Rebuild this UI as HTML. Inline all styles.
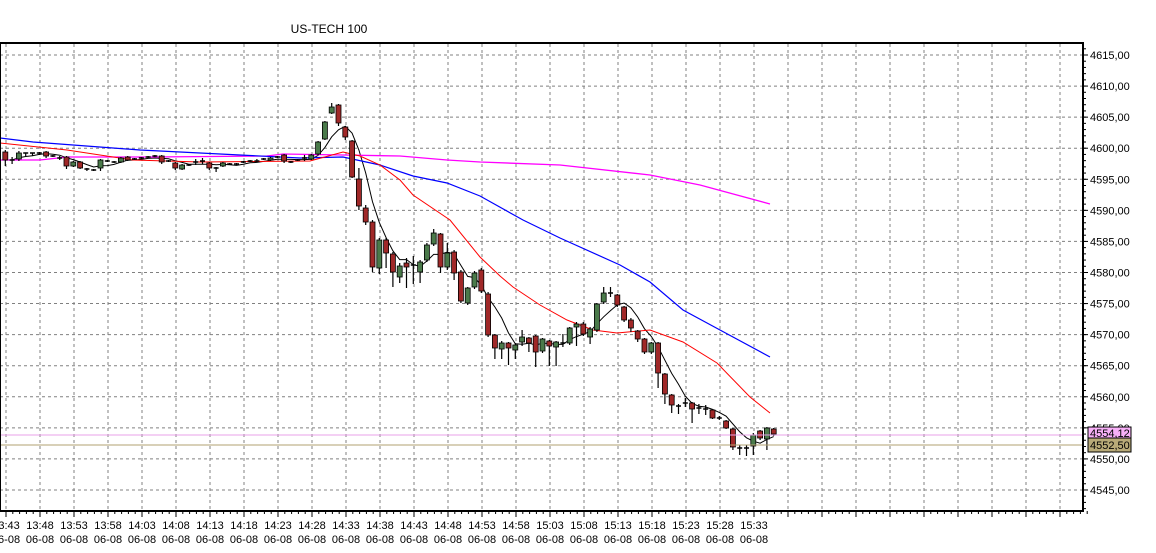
<!DOCTYPE html>
<html><head><meta charset="utf-8"><style>
html,body{margin:0;padding:0;background:#fff;}
svg{display:block;font-family:"Liberation Sans",sans-serif;}
</style></head><body>
<svg id="c" width="1156" height="553" xmlns="http://www.w3.org/2000/svg">
<rect width="1156" height="553" fill="#fff"/>
<text x="329" y="33" font-size="12" text-anchor="middle" fill="#000">US-TECH 100</text>
<g id="grid"></g>
<g id="lines"></g>
<g id="cand"></g>
<line x1="0" y1="435" x2="1083" y2="435" stroke="#e8a0e8" stroke-width="1"/>
<line x1="0" y1="445" x2="1083" y2="445" stroke="#b0a070" stroke-width="1"/>
<rect x="0" y="43" width="1083" height="468" fill="none" stroke="#000" stroke-width="2"/>
<g id="axis"></g>
<rect x="1088" y="427" width="43" height="11" fill="#f8b0f8" stroke="#000"/>
<text x="1090" y="437" font-size="11">4554,12</text>
<rect x="1088" y="438" width="43" height="14" fill="#b8aa78" stroke="#000"/>
<text x="1090" y="449" font-size="11">4552,50</text>
</svg>
<script>
const NS="http://www.w3.org/2000/svg";
function el(p,t,a,txt){const e=document.createElementNS(NS,t);for(const k in a)e.setAttribute(k,a[k]);if(txt!==undefined)e.textContent=txt;document.getElementById(p).appendChild(e);return e;}
// grid
for(let k=0;k<=14;k++){const y=55+31.07*k;el('grid','line',{x1:0,y1:y,x2:1083,y2:y,stroke:'#808080','stroke-dasharray':'3,3'});
 el('axis','line',{x1:1083,y1:y,x2:1088,y2:y,stroke:'#000'});
 el('axis','text',{x:1090,y:y+4,'font-size':11},(4615-5*k)+',00');}
for(let y=55-31.07;y<511;y+=6.214){if(y>44)el('axis','line',{x1:1083,y1:y,x2:1086,y2:y,stroke:'#000'});}
const times=["13:43","13:48","13:53","13:58","14:03","14:08","14:13","14:18","14:23","14:28","14:33","14:38","14:43","14:48","14:53","14:58","15:03","15:08","15:13","15:18","15:23","15:28","15:33"];
for(let k=0;k<32;k++){const x=6+34*k;el('grid','line',{x1:x,y1:44,x2:x,y2:510,stroke:'#808080','stroke-dasharray':'3,3'});
 el('axis','line',{x1:x,y1:511,x2:x,y2:517,stroke:'#000'});
 for(let m=1;m<5;m++)el('axis','line',{x1:x+6.8*m,y1:511,x2:x+6.8*m,y2:514,stroke:'#000'});
 if(k<times.length){el('axis','text',{x:x,y:529,'font-size':11,'text-anchor':'middle'},times[k]);el('axis','text',{x:x,y:543,'font-size':11,'text-anchor':'middle'},'06-08');}}
// candles: [type, top, bottom, wickTop, wickBot]  type g/r/d
const C=[
['r',152,160,150,166],['d',160,160,157,164],['g',153,159,151,161],['d',153,153,153,156],['d',153,153,153,156],['d',153,153,152,155],['r',152,156,151,158],['d',156,156,155,157],['d',158,158,156,160],['r',157,166,156,169],
['g',162,166,161,167],['r',162,168,161,169],['d',169,169,168,171],['d',170,170,169,171],['g',160,168,159,171],['d',161,161,160,162],['d',162,162,161,163],['g',158,162,157,163],['r',157,160,156,161],['d',159,159,158,160],
['d',158,158,157,159],['d',157,157,156,158],['d',156,156,155,157],['r',156,162,155,164],['d',161,161,160,162],['r',163,168,162,170],['g',165,169,164,170],['d',165,165,164,166],['d',162,162,159,165],['d',161,161,158,164],
['r',163,168,162,170],['d',168,168,167,172],['g',163,166,162,167],['d',164,164,163,165],['d',164,164,163,165],['d',162,162,161,163],['d',161,161,160,162],['d',161,161,159,162],['d',159,159,158,160],['g',158,160,157,161],
['d',157,157,156,158],['r',155,161,154,163],['d',162,162,161,163],['d',160,160,159,161],['d',158,158,155,161],['g',155,159,154,160],['g',142,154,141,155],['g',122,139,121,140],['g',107,113,103,114],['r',105,123,104,126],
['r',127,137,126,140],['r',141,177,140,178],['r',179,206,168,210],['r',208,222,205,225],['r',222,267,220,272],['g',240,268,238,274],['r',240,253,238,268],['r',254,272,252,287],['g',266,277,263,283],['r',263,267,258,288],
['d',265,265,256,284],['g',262,272,260,283],['g',245,260,243,262],['g',233,244,229,246],['r',234,267,233,273],['g',253,267,243,270],['r',252,273,250,280],['r',272,301,270,303],['g',288,303,287,305],['g',273,287,271,289],
['r',270,291,268,293],['r',294,335,292,337],['r',335,348,334,359],['g',343,349,341,359],['r',343,348,342,365],['g',345,350,343,359],['g',337,342,330,346],['r',338,343,337,352],['r',336,352,335,367],['g',339,351,338,353],
['r',341,346,340,366],['g',342,347,341,366],['d',343,343,334,347],['g',328,343,327,345],['g',324,327,322,346],['r',324,334,322,336],['g',329,337,327,344],['g',304,330,303,332],['g',293,302,287,304],['d',293,293,287,297],
['r',295,305,294,307],['r',307,320,306,322],['r',320,328,318,332],['r',331,339,330,342],['r',339,352,338,354],['g',343,352,342,354],['r',343,373,342,388],['r',374,394,373,404],['r',395,405,394,413],['d',406,406,404,414],
['d',403,403,398,407],['r',403,409,402,423],['d',408,408,404,414],['d',409,409,405,415],['r',410,418,409,419],['d',418,418,416,420],['r',421,428,420,429],['r',429,447,428,450],['d',448,448,445,455],['d',448,448,445,456],
['g',435,446,433,455],['r',431,438,430,440],['g',428,439,427,450],['r',429,434,428,436]];
const closes=[];
C.forEach((c,i)=>{const x=5.3+6.8*i;
 el('cand','line',{x1:x,y1:c[3],x2:x,y2:c[4],stroke:'#000','stroke-width':1.2});
 if(c[0]==='d'){el('cand','line',{x1:x-2.5,y1:c[1],x2:x+2.5,y2:c[1],stroke:'#000','stroke-width':1.5});closes.push(c[1]);}
 else{el('cand','rect',{x:x-2.5,y:c[1],width:5,height:Math.max(1,c[2]-c[1]),fill:c[0]==='g'?'#4a7a4a':'#a02828',stroke:'#000','stroke-width':0.8});closes.push(c[0]==='g'?c[1]:c[2]);}
});
// black MA
let pts=[];for(let i=0;i<closes.length;i++){let s=0,n=0;for(let j=Math.max(0,i-4);j<=i;j++){s+=closes[j];n++;}pts.push((5.3+6.8*i).toFixed(1)+','+(s/n).toFixed(1));}
el('lines','polyline',{points:pts.join(' '),fill:'none',stroke:'#000','stroke-width':1});
el('lines','polyline',{points:"0,160 40,160 67,157 150,157 267,156 283,154 343,155 400,156 447,160 480,162 560,165 650,175 700,185 770,204",fill:'none',stroke:'#ff00ff','stroke-width':1.3});
el('lines','polyline',{points:"0,138 33,142 140,150 200,153 300,158 343,157 380,165 413,176 447,183 480,196 523,220 560,238 620,265 650,282 683,310 720,330 770,357",fill:'none',stroke:'#0000ff','stroke-width':1.2});
el('lines','polyline',{points:"0,143 67,150 133,160 200,162 310,161 343,152 360,156 380,165 400,180 413,195 450,220 480,257 500,276 513,287 540,305 567,320 593,330 617,333 650,330 683,342 717,363 750,397 770,413",fill:'none',stroke:'#ff0000','stroke-width':1});
</script>
</body></html>
